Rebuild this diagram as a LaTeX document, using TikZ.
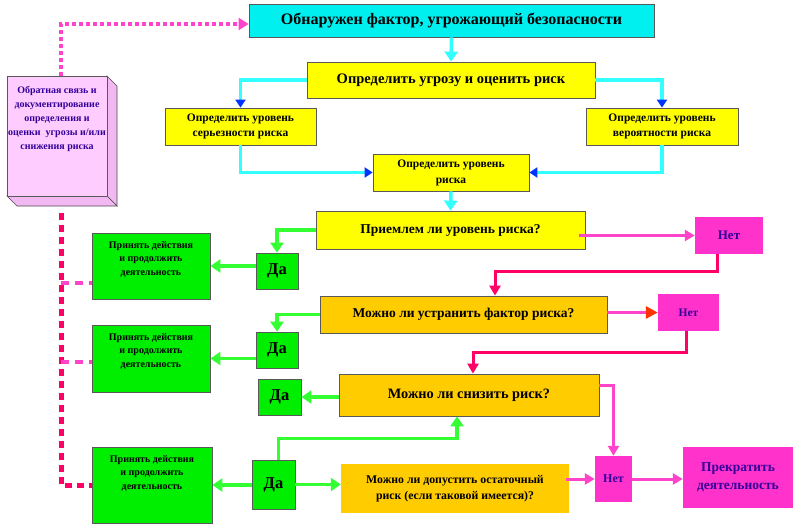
\documentclass[tikz,border=0pt]{standalone}
\usepackage{fontspec}
\setmainfont{Liberation Serif}
\usetikzlibrary{arrows.meta}
\definecolor{boxcyan}{HTML}{00F0F0}
\definecolor{boxyellow}{HTML}{FFFF00}
\definecolor{boxorange}{HTML}{FFCC00}
\definecolor{boxgreen}{HTML}{00EE00}
\definecolor{boxmagenta}{HTML}{FF33CC}
\definecolor{boxpink}{HTML}{FFCCFF}
\definecolor{sidepink}{HTML}{F2B8F2}
\definecolor{linecyan}{HTML}{33FFFF}
\definecolor{tipblue}{HTML}{0033FF}
\definecolor{linegreen}{HTML}{33FF33}
\definecolor{linecrimson}{HTML}{FF0066}
\definecolor{linemagenta}{HTML}{FF44CC}
\definecolor{tipred}{HTML}{FF3300}
\definecolor{textblue}{HTML}{330099}
\newcommand{\fs}[2]{\bfseries\fontsize{#1}{#2}\selectfont}
\begin{document}
\begin{tikzpicture}[x=1pt,y=-1pt,
    box/.style={draw=black!65,line width=0.8pt,align=center,inner sep=1pt},
    plainbox/.style={align=center,inner sep=1pt},
    cyanline/.style={draw=linecyan,line width=3.5pt},
    greenline/.style={draw=linegreen,line width=3.5pt,-{Triangle[width=13pt,length=10pt,color=linegreen]}},
    pinkline/.style={draw=linemagenta,line width=3pt,-{Triangle[width=11pt,length=10pt,color=linemagenta]}},
    redline/.style={draw=linecrimson,line width=3pt,-{Triangle[width=11pt,length=10pt,color=linecrimson]}},
    bluetip/.style={-{Triangle[width=10pt,length=8pt,color=tipblue]}},
    cyantip/.style={-{Triangle[width=13pt,length=10pt,color=linecyan]}}]
  \useasboundingbox (0,0) rectangle (800,530);
  % threat assessment
  \node[box,fill=boxcyan,minimum width=405,minimum height=33,font=\fs{16}{18}] (title) at (451.5,20.5) {Обнаружен фактор, угрожающий безопасности};
  \node[box,fill=boxyellow,minimum width=288,minimum height=36,font=\fs{14.5}{16}] (threat) at (451,80) {Определить угрозу и оценить риск};
  \node[box,fill=boxyellow,minimum width=151,minimum height=37,font=\fs{11.5}{15}] (sev) at (240.5,126.5) {Определить уровень\\серьезности риска};
  \node[box,fill=boxyellow,minimum width=152,minimum height=37,font=\fs{11.5}{15}] (prob) at (662,126.5) {Определить уровень\\вероятности риска};
  \node[box,fill=boxyellow,minimum width=156,minimum height=37,font=\fs{11.5}{16}] (level) at (451,172.5) {Определить уровень\\риска};
  % decisions
  \node[box,fill=boxyellow,minimum width=269,minimum height=38,font=\fs{13.5}{15}] (accept) at (450.5,230) {Приемлем ли уровень риска?};
  \node[box,fill=boxorange,minimum width=287,minimum height=37,font=\fs{13.5}{15}] (elim) at (463.5,314.5) {Можно ли устранить фактор риска?};
  \node[box,fill=boxorange,minimum width=260,minimum height=42,font=\fs{14.3}{15}] (reduce) at (469,395) {Можно ли снизить риск?};
  \node[plainbox,fill=boxorange,minimum width=228,minimum height=49,font=\fs{11.8}{16}] (resid) at (455,488.5) {Можно ли допустить остаточный\\риск (если таковой имеется)?};
  % answers
  \node[plainbox,fill=boxmagenta,text=textblue,minimum width=68,minimum height=37,font=\fs{13}{13}] (no1) at (729,235.5) {Нет};
  \node[plainbox,fill=boxmagenta,text=textblue,minimum width=61,minimum height=37,font=\fs{11.5}{12}] (no2) at (688.5,312.5) {Нет};
  \node[plainbox,fill=boxmagenta,text=textblue,minimum width=37,minimum height=46,font=\fs{12}{12}] (no3) at (613.5,479) {Нет};
  \node[plainbox,fill=boxmagenta,text=textblue,minimum width=110,minimum height=61,font=\fs{13.5}{18}] (stop) at (738,477.5) {Прекратить\\деятельность};
  \node[box,fill=boxgreen,minimum width=42,minimum height=36,font=\fs{16.5}{17}] (da1) at (277,271) {Да};
  \node[box,fill=boxgreen,minimum width=42,minimum height=36,font=\fs{16.5}{17}] (da2) at (277,350) {Да};
  \node[box,fill=boxgreen,minimum width=43,minimum height=36,font=\fs{16.5}{17}] (da3) at (279.5,397) {Да};
  \node[box,fill=boxgreen,minimum width=43,minimum height=49,font=\fs{16.5}{17}] (da4) at (273.5,484.5) {Да};
  \foreach \n/\x/\y/\w/\h in {g1/151/266/118/66, g2/151/358.5/118/67, g3/152/485/120/76}
    \node[box,fill=boxgreen,minimum width=\w,minimum height=\h,
      label={[font=\fs{10}{13.5},align=center,anchor=north,yshift=-5pt]north:Принять действия\\и продолжить\\деятельность}] (\n) at (\x,\y) {};
  % feedback box
  \fill[sidepink,draw=black!70,line width=0.6pt] (107,76) -- (117,86) -- (117,206) -- (107,196) -- cycle;
  \fill[sidepink,draw=black!70,line width=0.6pt] (7,196) -- (107,196) -- (117,206) -- (17,206) -- cycle;
  \node[box,fill=boxpink,minimum width=100,minimum height=120,
    label={[font=\fs{10}{14},text=textblue,align=center,anchor=north,yshift=-7pt]north:Обратная связь и\\документирование\\определения и\\оценки~ угрозы и/или\\снижения риска}] (fb) at (57,136) {};
  % connectors
  \draw[cyanline,cyantip] (title.south) -- (threat.north);
  \draw[cyanline,bluetip] (threat.west) -| (sev.north);
  \draw[cyanline,bluetip] (threat.east) -| (prob.north);
  \draw[cyanline,bluetip] (sev.south) |- (level.west);
  \draw[cyanline,bluetip] (prob.south) |- (level.east);
  \draw[cyanline,cyantip] (level.south) -- (accept.north);
  \draw[greenline] (accept.west) -| (da1.north);
  \draw[greenline] (da1.west |- g1.east) -- (g1.east);
  \draw[pinkline] ([xshift=-6pt]accept.east |- no1.west) -- (no1.west);
  \draw[redline] ([xshift=-12pt]no1.south) -- ++(0,17) -| ([xshift=31.5pt]elim.north);
  \draw[greenline] (elim.west) -| (da2.north);
  \draw[greenline] (da2.west |- g2.east) -- (g2.east);
  \draw[pinkline,-{Triangle[width=12pt,length=12pt,color=tipred]}] (elim.east |- no2.west) -- (no2.west);
  \draw[redline] ([xshift=-2.5pt]no2.south) -- ++(0,21) -| ([xshift=4pt]reduce.north);
  \draw[greenline] (reduce.west |- da3.east) -- (da3.east);
  \draw[pinkline] ([yshift=10pt]reduce.east) -| (no3.north);
  \draw[greenline] ([xshift=5pt]da4.north) -- ++(0,-21) -| ([xshift=-12pt]reduce.south);
  \draw[greenline] (da4.west |- g3.east) -- (g3.east);
  \draw[greenline] (da4.east) -- (da4.east -| resid.west);
  \draw[pinkline] ([xshift=-3pt]resid.east |- no3.west) -- (no3.west);
  \draw[pinkline] (no3.east) -- (no3.east -| stop.west);
  % feedback lines
  \draw[draw=linemagenta,line width=4pt,dash pattern=on 4pt off 3pt,-{Triangle[width=12pt,length=10pt,color=linemagenta]}] ([xshift=4pt]fb.north) |- ([yshift=-3.5pt]title.west);
  \coordinate (fbdrop) at ([xshift=4pt,yshift=-17pt]fb.south);
  \draw[draw=linecrimson,line width=5pt,dash pattern=on 7pt off 5pt] (fbdrop) |- (g3.west);
  \draw[draw=linemagenta,line width=4pt,dash pattern=on 8pt off 6pt] (fbdrop |- 0,283) -- (g1.west |- 0,283);
  \draw[draw=linemagenta,line width=4pt,dash pattern=on 8pt off 6pt] (fbdrop |- 0,362) -- (g2.west |- 0,362);
\end{tikzpicture}
\end{document}
